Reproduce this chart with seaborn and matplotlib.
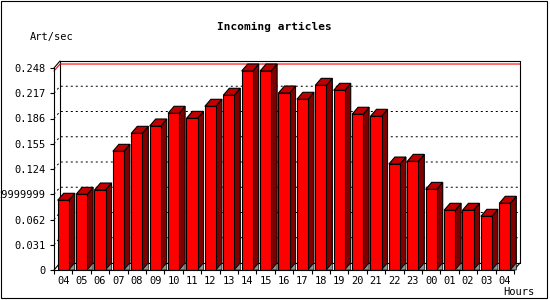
import numpy as np
import pandas as pd
import matplotlib
matplotlib.use("Agg")
import matplotlib.pyplot as plt
from matplotlib.patches import Polygon, Rectangle
import seaborn as sns

# ---- data ----
hours = ["04", "05", "06", "07", "08", "09", "10", "11", "12", "13", "14", "15",
         "16", "17", "18", "19", "20", "21", "22", "23", "00", "01", "02", "03", "04"]
values = [0.0856, 0.0929, 0.0982, 0.1457, 0.1678, 0.1768, 0.1924, 0.1862,
          0.2010, 0.2145, 0.2443, 0.2443, 0.2173, 0.2096, 0.2267, 0.2206,
          0.1912, 0.1887, 0.1301, 0.1334, 0.0990, 0.0733, 0.0733, 0.0659, 0.0819]
ytick_vals = [0, 0.031, 0.062, 0.093, 0.124, 0.155, 0.186, 0.217, 0.248]
ytick_labels = ["0", "0.031", "0.062", "0.0929999999", "0.124", "0.155",
                "0.186", "0.217", "0.248"]
title = "Incoming articles"
ylabel = "Art/sec"
xlabel = "Hours"

sns.set_style("white")
plt.rcParams["font.family"] = ["DejaVu Sans Mono", "DejaVu Sans"]
plt.rcParams["text.color"] = "black"
plt.rcParams["xtick.color"] = "black"
plt.rcParams["ytick.color"] = "black"
plt.rcParams["axes.labelcolor"] = "black"

W, H = 550, 300
fig = plt.figure(figsize=(W / 100, H / 100), dpi=100)
fig.patch.set_facecolor("white")

# front plot area in pixels
left_px, right_px, bottom_px, top_px = 54, 514, 270, 68
ax = fig.add_axes([left_px / W, (H - bottom_px) / H,
                   (right_px - left_px) / W, (bottom_px - top_px) / H])
ax.patch.set_visible(False)

n = len(values)
ymax = 0.248
ax.set_xlim(-0.5, n - 0.5)
ax.set_ylim(0, ymax)

px_x = (right_px - left_px) / n
px_y = (bottom_px - top_px) / ymax
dx = 6 / px_x
dy = 7 / px_y

df = pd.DataFrame({"pos": np.arange(n), "val": values})
sns.barplot(data=df, x="pos", y="val", ax=ax, color="#ff0000", saturation=1,
            width=0.6, edgecolor="black", linewidth=0.8, zorder=5)
ax.set_xlim(-0.5, n - 0.5)
ax.set_ylim(0, ymax)

lw = 0.8
x0, x1 = -0.5, n - 0.5
# back wall
ax.plot([x0 + dx, x0 + dx, x1 + dx, x1 + dx], [dy, ymax + dy, ymax + dy, dy],
        color="black", lw=lw, clip_on=False, zorder=1)
ax.plot([x0, x0 + dx], [ymax, ymax + dy], color="black", lw=lw, clip_on=False, zorder=1)
ax.plot([x0, x0 + dx], [0, dy], color="black", lw=lw, clip_on=False, zorder=1)
ax.plot([x1, x1 + dx], [0, dy], color="black", lw=lw, clip_on=False, zorder=1)
ax.plot([x0 + dx, x1 + dx], [dy, dy], color="black", lw=lw, clip_on=False, zorder=1)

# dotted grid lines on back wall
for v in ytick_vals[1:-1]:
    ax.plot([x0, x0 + dx, x1 + dx], [v, v + dy, v + dy], color="black", lw=0.72,
            linestyle=(0, (2, 3)), clip_on=False, zorder=1)

# max line
vmax = max(values)
ax.plot([x0, x0 + dx, x1 + dx], [vmax, vmax + dy, vmax + dy], color="#ff0000",
        lw=0.8, clip_on=False, zorder=1.5)

# 3D sides and tops of the bars
for p in list(ax.patches):
    bx, bw, bh = p.get_x(), p.get_width(), p.get_height()
    xr = bx + bw
    side = Polygon([(xr, bh), (xr + dx, bh + dy), (xr + dx, dy), (xr, 0)],
                   closed=True, facecolor="#800000", edgecolor="black",
                   linewidth=0.8, clip_on=False, zorder=4)
    top = Polygon([(bx, bh), (bx + dx, bh + dy), (xr + dx, bh + dy), (xr, bh)],
                  closed=True, facecolor="#c00000", edgecolor="black",
                  linewidth=0.8, clip_on=False, zorder=4)
    shadow = Polygon([(xr, 0), (xr + dx, dy), (xr + dx, 0)], closed=True,
                     facecolor="#909090", edgecolor="black", linewidth=0.5,
                     clip_on=False, zorder=4.5)
    ax.add_patch(side)
    ax.add_patch(top)
    ax.add_patch(shadow)

# spines
for s in ["top", "right"]:
    ax.spines[s].set_visible(False)
for s in ["left", "bottom"]:
    ax.spines[s].set_color("black")
    ax.spines[s].set_linewidth(0.8)
    ax.spines[s].set_zorder(6)

ax.set_yticks(ytick_vals)
ax.set_yticklabels(ytick_labels)
ax.set_xticks(np.arange(n))
ax.set_xticklabels(hours)
ax.set_xticks(np.arange(n + 1) - 0.5, minor=True)
ax.tick_params(axis="y", which="major", direction="out", length=3, width=0.8,
               pad=3, labelsize=7.5, left=True, color="black", labelcolor="black")
ax.tick_params(axis="x", which="major", length=0, pad=4, labelsize=7.5,
               labelcolor="black")
ax.tick_params(axis="x", which="minor", direction="out", length=3, width=0.8,
               bottom=True, color="black")
ax.set_xlabel("")
ax.set_ylabel("")

fig.text(274 / W, 1 - 27 / H, title, ha="center", va="center",
         fontsize=8, fontweight="bold", color="black")
fig.text(30 / W, 1 - 37 / H, ylabel, ha="left", va="center", fontsize=7.5,
         color="black")
fig.text(534 / W, 1 - 292 / H, xlabel, ha="right", va="center", fontsize=7.5,
         color="black")

# outer border
fig.add_artist(Rectangle((0.5 / W, 1 - 297.5 / H), 546 / W, 297 / H,
                         transform=fig.transFigure, fill=False,
                         edgecolor="black", linewidth=0.8))

fig.savefig("out.png", dpi=100)
